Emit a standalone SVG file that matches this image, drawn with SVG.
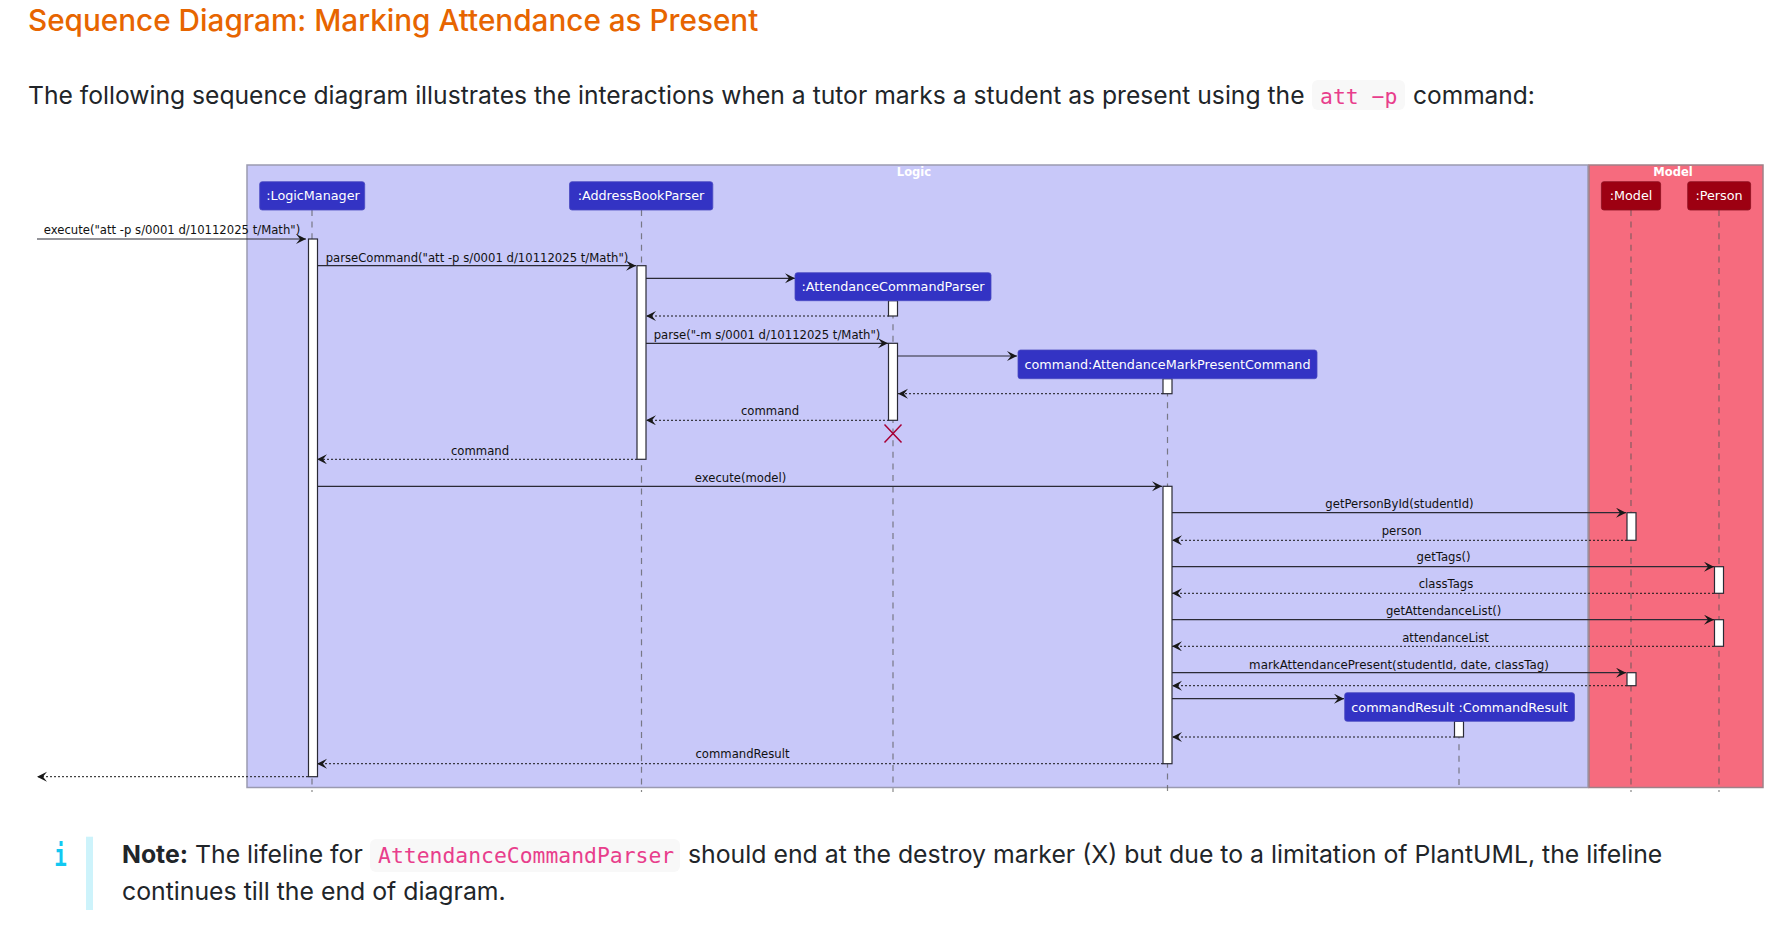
<svg xmlns="http://www.w3.org/2000/svg" width="1767" height="931" viewBox="0 0 1767 931">
<style>
text{font-family:"DejaVu Sans",sans-serif}
.doc{font-family:Inter,"Noto Sans",sans-serif;font-size:24.8px;fill:#212529}
.code{font-family:"DejaVu Sans Mono",monospace;font-size:21.4px;fill:#e83e8c}
.codebg{fill:#f8f8f8}
.m{font-size:11.65px;fill:#111;text-anchor:middle}
.pt{font-size:12.75px;fill:#fff;text-anchor:middle}
.pb{fill:#3333c4;stroke:#4a4ac0;stroke-width:.8}
.pr{fill:#9d0012;stroke:#8a1020;stroke-width:.8}
.life{stroke:#555;stroke-opacity:.7;stroke-width:1.2;stroke-dasharray:6 5.6;fill:none}
.act{fill:#fff;stroke:#2a2a35;stroke-width:1.2}
.s{stroke:#2a2a35;stroke-width:1.2;fill:none;marker-end:url(#a)}
.d{stroke:#181818;stroke-width:1;stroke-dasharray:2 2;fill:none;marker-end:url(#a)}
.bt{font-size:11.55px;font-weight:bold;fill:#fff;text-anchor:middle}
</style>
<defs>
<marker id="a" markerUnits="userSpaceOnUse" markerWidth="14" markerHeight="12" refX="10" refY="5" orient="auto">
<path d="M0,0L10,5L0,10L4,5Z" fill="#181818"/>
</marker>
</defs>
<rect width="1767" height="931" fill="#fff"/>
<text x="28" y="31" font-size="29.7" style="font-family:Inter,'Noto Sans',sans-serif;fill:#e76500;font-weight:500">Sequence Diagram: Marking Attendance as Present</text>
<text class="doc" x="28" y="104" style="font-size:24.66px">The following sequence diagram illustrates the interactions when a tutor marks a student as present using the</text>
<rect class="codebg" x="1312" y="80" width="93" height="30" rx="6"/>
<text class="code" x="1320" y="104">att −p</text>
<text class="doc" x="1413" y="104" style="font-size:24.5px">command:</text>

<g id="box-logic"><rect x="247" y="165" width="1341" height="622.5" fill="#c8c8f9" stroke="#9a9ab0" stroke-width="1.5"/><text class="bt" x="914" y="176">Logic</text></g>
<g id="box-model"><rect x="1589" y="165" width="174" height="622.5" fill="#f66b7e" stroke="#a08088" stroke-width="1.5"/><text class="bt" x="1673" y="176">Model</text></g>

<g id="lifelines">
<path class="life" d="M312 210V792M641.5 210V792M893 301V792M1167.5 379V792M1459 721V790M1631 210V792M1719 210V792"/>
</g>
<g id="connectors">
<path class="s" d="M37 239H306"/>
<path class="s" d="M317 265.7H636"/>
<path class="s" d="M646 278.3H795"/>
<path class="d" d="M889 316H646"/>
<path class="s" d="M646 343.3H888"/>
<path class="s" d="M898 356H1017"/>
<path class="d" d="M1163 393.7H898"/>
<path class="d" d="M889 420.3H646"/>
<path class="d" d="M637 459.3H317"/>
<path class="s" d="M317 486.3H1162"/>
<path class="s" d="M1172 512.7H1626"/>
<path class="d" d="M1627 540.3H1172"/>
<path class="s" d="M1172 566.7H1714"/>
<path class="d" d="M1714 593.3H1172"/>
<path class="s" d="M1172 619.7H1714"/>
<path class="d" d="M1714 646.3H1172"/>
<path class="s" d="M1172 672.7H1626"/>
<path class="d" d="M1627 685.7H1172"/>
<path class="s" d="M1172 698.7H1344"/>
<path class="d" d="M1455 737H1172"/>
<path class="d" d="M1163 763.7H317"/>
<path class="d" d="M308 776.7H37"/>
</g>
<g id="labels">
<text class="m" x="172" y="234">execute("att -p s/0001 d/10112025 t/Math")</text>
<text class="m" x="477" y="261.5">parseCommand("att -p s/0001 d/10112025 t/Math")</text>
<text class="m" x="767" y="338.7">parse("-m s/0001 d/10112025 t/Math")</text>
<text class="m" x="770" y="415.3">command</text>
<text class="m" x="480" y="455.3">command</text>
<text class="m" x="740.5" y="482.3">execute(model)</text>
<text class="m" x="1399.5" y="508.3">getPersonById(studentId)</text>
<text class="m" x="1401.7" y="535.3">person</text>
<text class="m" x="1443.6" y="561.3">getTags()</text>
<text class="m" x="1446" y="588.3">classTags</text>
<text class="m" x="1443.6" y="615">getAttendanceList()</text>
<text class="m" x="1445.5" y="642.3">attendanceList</text>
<text class="m" x="1399" y="669" style="font-size:11.85px">markAttendancePresent(studentId, date, classTag)</text>
<text class="m" x="742.5" y="758.3">commandResult</text>
</g>
<g id="activations">
<rect class="act" x="308.5" y="239" width="9" height="537.7"/>
<rect class="act" x="637" y="265.7" width="9" height="193.6"/>
<rect class="act" x="888.5" y="300.7" width="9" height="15.3"/>
<rect class="act" x="888.5" y="343.3" width="9" height="77"/>
<rect class="act" x="1163" y="378.7" width="9" height="15"/>
<rect class="act" x="1163" y="486.3" width="9" height="277.4"/>
<rect class="act" x="1627" y="512.7" width="9" height="27.6"/>
<rect class="act" x="1714.5" y="566.7" width="9" height="26.6"/>
<rect class="act" x="1714.5" y="619.7" width="9" height="26.6"/>
<rect class="act" x="1627" y="672.7" width="9" height="13"/>
<rect class="act" x="1454.5" y="721.3" width="9" height="15.7"/>
</g>
<g id="destroy"><path d="M884.5 424.5L901.5 442.5M901.5 424.5L884.5 442.5" stroke="#a80036" stroke-width="1.5" fill="none"/></g>
<g id="n-logicmanager"><rect class="pb" x="259.7" y="181.7" width="105" height="28.3" rx="2.5"/><text class="pt" x="313" y="200">:LogicManager</text></g>
<g id="n-addressbookparser"><rect class="pb" x="569.5" y="181.7" width="143.3" height="28.3" rx="2.5"/><text class="pt" x="641" y="200">:AddressBookParser</text></g>
<g id="n-attendancecommandparser"><rect class="pb" x="795" y="272.7" width="196" height="28" rx="2.5"/><text class="pt" x="893" y="291">:AttendanceCommandParser</text></g>
<g id="n-command"><rect class="pb" x="1018" y="350" width="299" height="28.7" rx="2.5"/><text class="pt" x="1167.5" y="369">command:AttendanceMarkPresentCommand</text></g>
<g id="n-commandresult"><rect class="pb" x="1344.7" y="692.7" width="229.8" height="28.6" rx="2.5"/><text class="pt" x="1459.5" y="712">commandResult :CommandResult</text></g>
<g id="n-model"><rect class="pr" x="1601.4" y="181.7" width="59.2" height="28.3" rx="2.5"/><text class="pt" x="1631" y="200">:Model</text></g>
<g id="n-person"><rect class="pr" x="1687.7" y="181.7" width="62.9" height="28.3" rx="2.5"/><text class="pt" x="1719" y="200">:Person</text></g>

<g id="note">
<rect x="86" y="836.7" width="7" height="73.3" fill="#cdf3fb"/>
<text transform="translate(60.5 865.5) scale(.8 1.15)" font-size="26" font-weight="bold" style="font-family:'DejaVu Sans Mono',monospace;fill:#12c8f2" text-anchor="middle">i</text>
<text class="doc" x="122" y="863"><tspan font-weight="700">Note:</tspan> The lifeline for</text>
<rect class="codebg" x="370" y="839" width="310" height="33" rx="6"/>
<text class="code" x="378" y="863">AttendanceCommandParser</text>
<text class="doc" x="688" y="863">should end at the destroy marker (X) but due to a limitation of PlantUML, the lifeline</text>
<text class="doc" x="122" y="900">continues till the end of diagram.</text>
</g>
</svg>
